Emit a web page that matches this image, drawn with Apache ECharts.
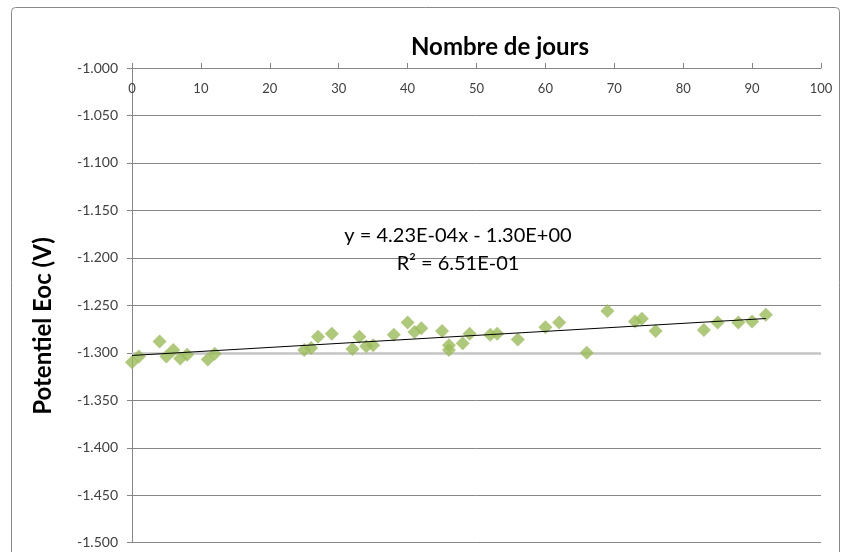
<!DOCTYPE html>
<html>
<head>
<meta charset="utf-8">
<script src="https://cdn.jsdelivr.net/npm/echarts@6/dist/echarts.min.js"></script>
<style>
  html, body { margin: 0; padding: 0; background: #ffffff; }
  #chart { width: 847px; height: 552px; }
</style>
</head>
<body>
<div id="chart"></div>
<script>
// Open-circuit potential (V) measured against elapsed days
const days = [0, 1, 4, 5, 6, 7, 8, 11, 12,
  25, 26, 27, 29, 32, 33, 34, 35, 38,
  40, 41, 42, 45, 46, 46, 48, 49,
  52, 53, 56, 60, 62, 66, 69,
  73, 74, 76, 83, 85, 88, 90, 92];
const potentials = [-1.310, -1.304, -1.288, -1.304, -1.297, -1.306, -1.302, -1.307, -1.301,
  -1.297, -1.295, -1.283, -1.280, -1.296, -1.283, -1.293, -1.292, -1.281,
  -1.268, -1.278, -1.274, -1.277, -1.292, -1.297, -1.290, -1.280,
  -1.281, -1.280, -1.286, -1.273, -1.268, -1.300, -1.256,
  -1.267, -1.264, -1.277, -1.276, -1.268, -1.268, -1.267, -1.260];

const xTicks = { min: 0, max: 100, step: 10 };
const yTicks = { min: -1.5, max: -1.0, step: 0.05 };

// Linear trend: slope as reported in the equation, intercept fitted through the mean point
const trendSlope = 4.23e-4;
const equationText = 'y = 4.23E-04x - 1.30E+00';
const r2Text = 'R² = 6.51E-01';
const highlightLevel = -1.3;

const meanX = days.reduce((a, b) => a + b, 0) / days.length;
const meanY = potentials.reduce((a, b) => a + b, 0) / potentials.length;
const trendIntercept = meanY - trendSlope * meanX;
const xFirst = Math.min(...days), xLast = Math.max(...days);
const trendPoints = [
  [xFirst, trendIntercept + trendSlope * xFirst],
  [xLast, trendIntercept + trendSlope * xLast]
];

const FONT = 'Lato, "Open Sans", sans-serif';
const chart = echarts.init(document.getElementById('chart'), null, { renderer: 'canvas' });

chart.setOption({
  animation: false,
  backgroundColor: '#ffffff',
  title: {
    text: 'Nombre de jours',
    left: 495, top: 30, textAlign: 'center',
    textStyle: { fontFamily: FONT, fontWeight: 'bold', fontSize: 24, color: '#000000' }
  },
  graphic: [
    {
      type: 'rect', z: -10, silent: true,
      shape: { x: 11.5, y: 7.5, width: 828, height: 560, r: 4 },
      style: { fill: 'none', stroke: '#898989', lineWidth: 1 }
    },
    {
      type: 'text', z: 10, silent: true,
      style: { x: 458, y: 236, text: equationText, fontFamily: FONT, fontSize: 20, fill: '#000000',
        textAlign: 'center', textVerticalAlign: 'middle' }
    },
    {
      type: 'text', z: 10, silent: true,
      style: { x: 458, y: 264, text: r2Text, fontFamily: FONT, fontSize: 20, fill: '#000000',
        textAlign: 'center', textVerticalAlign: 'middle' }
    },
    {
      type: 'text', z: 10, silent: true,
      x: 43, y: 326, rotation: Math.PI / 2,
      style: { x: 0, y: 0, text: 'Potentiel Eoc (V)', fontFamily: FONT, fontWeight: 'bold', fontSize: 24,
        fill: '#000000', textAlign: 'center', textVerticalAlign: 'middle' }
    }
  ],
  grid: { left: 132, right: 26, top: 68, bottom: 9.3, containLabel: false },
  xAxis: {
    type: 'value', position: 'top',
    min: xTicks.min, max: xTicks.max, interval: xTicks.step,
    axisLine: { show: true, onZero: false, lineStyle: { color: '#868686', width: 1 } },
    axisTick: { show: true, inside: false, length: 5, lineStyle: { color: '#868686' } },
    axisLabel: { inside: true, margin: 14, fontFamily: FONT, fontSize: 13, color: '#404040' },
    splitLine: { show: false }
  },
  yAxis: {
    type: 'value',
    min: yTicks.min, max: yTicks.max, interval: yTicks.step,
    axisLine: { show: true, onZero: false, lineStyle: { color: '#868686', width: 1 } },
    axisTick: { show: true, inside: false, length: 5, lineStyle: { color: '#868686' } },
    axisLabel: {
      margin: 14, fontFamily: FONT, fontSize: 14, color: '#404040',
      formatter: v => (Math.round(v * 1000) / 1000).toFixed(3)
    },
    splitLine: { show: true, lineStyle: { color: '#868686', width: 1 } }
  },
  series: [
    {
      // light reference level at -1.300 V, kept beneath the markers
      type: 'scatter',
      data: [],
      z: 1,
      markLine: {
        silent: true, symbol: 'none', z: 1,
        label: { show: false },
        lineStyle: { color: '#c4c4c4', width: 2.5, type: 'solid' },
        data: [{ yAxis: highlightLevel }]
      }
    },
    {
      type: 'scatter',
      data: days.map((d, i) => [d, potentials[i]]),
      symbol: 'diamond', symbolSize: 14,
      itemStyle: { color: '#9BBB59' },
      z: 3
    },
    {
      type: 'line',
      data: trendPoints,
      showSymbol: false, symbol: 'none',
      lineStyle: { color: '#000000', width: 1 },
      z: 4
    }
  ]
});
</script>
</body>
</html>
